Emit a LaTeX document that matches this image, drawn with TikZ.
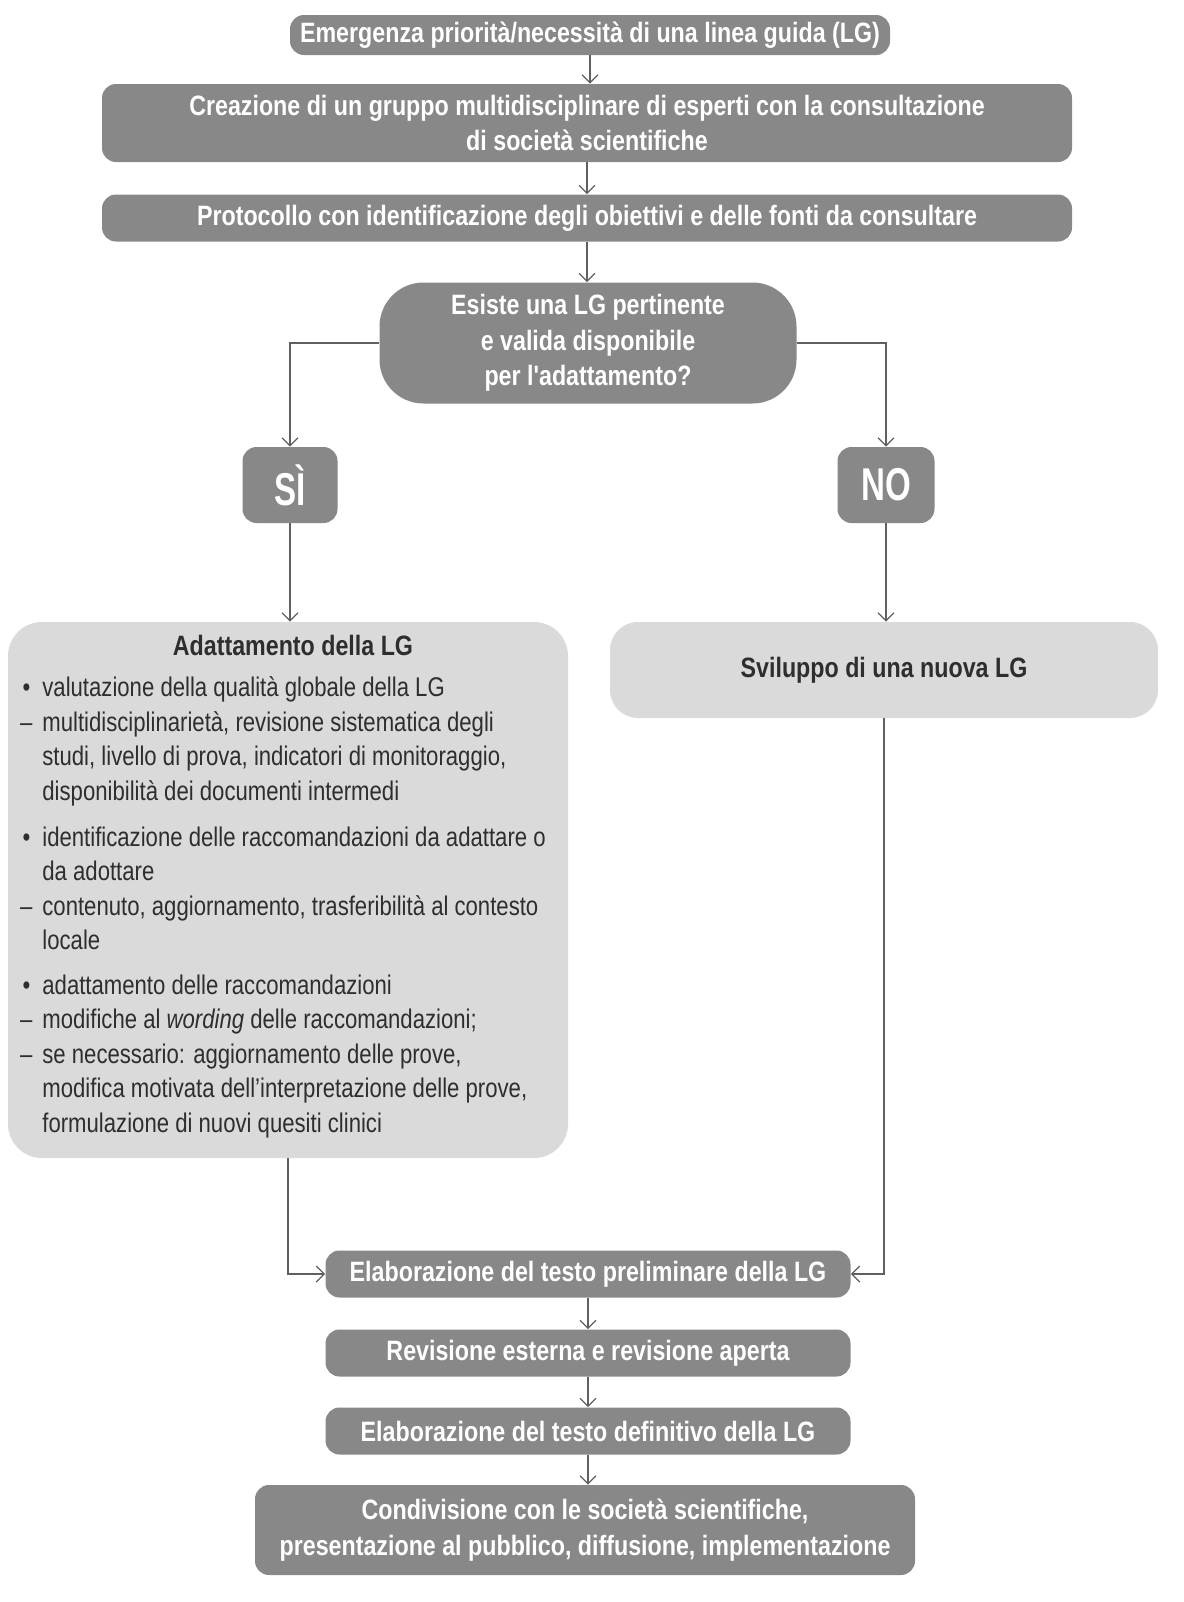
\documentclass[tikz,border=0pt]{standalone}
\usepackage{fontspec}
\setmainfont[FakeStretch=0.82]{Liberation Sans}
\newfontfamily\condbf[FakeStretch=0.83]{Liberation Sans}
\newfontfamily\condbig[FakeStretch=0.72]{Liberation Sans}
\usetikzlibrary{arrows.meta}
\definecolor{boxdark}{HTML}{888888}
\definecolor{boxlight}{HTML}{DADADA}
\definecolor{textdark}{HTML}{2E2E2E}
\definecolor{linegray}{HTML}{606060}
\tikzset{
  darkbox/.style={rectangle, rounded corners=7pt, fill=boxdark, text=white,
    font=\condbf\bfseries\fontsize{14}{17.75}\selectfont, inner sep=0pt, align=center},
  lightbox/.style={rectangle, rounded corners=17pt, fill=boxlight, inner sep=0pt},
  conn/.style={draw=linegray, line width=0.6pt, -{Straight Barb[length=4pt,width=8pt]}},
  line/.style={draw=linegray, line width=0.6pt}
}
\begin{document}
\begin{tikzpicture}[x=0.5pt,y=-0.5pt]
\useasboundingbox[fill=white] (0,0) rectangle (1184,1602);
% top chain
\node[darkbox, minimum width=300pt, minimum height=20pt] (b1) at (590,35)
  {Emergenza priorità/necessità di una linea guida (LG)};
\node[darkbox, minimum width=485pt, minimum height=39pt] (b2) at (587,123)
  {Creazione di un gruppo multidisciplinare di esperti con la consultazione\\di società scientifiche};
\node[darkbox, minimum width=485pt, minimum height=23.5pt] (b3) at (587,218)
  {Protocollo con identificazione degli obiettivi e delle fonti da consultare};
\node[darkbox, rounded corners=22pt, minimum width=208.5pt, minimum height=60.5pt] (dec) at (588,343)
  {Esiste una LG pertinente\\e valida disponibile\\per l'adattamento?};
\node[darkbox, font=\condbig\bfseries\fontsize{23}{26}\selectfont, minimum width=47.5pt, minimum height=38pt] (si) at (290,485) {SÌ};
\node[darkbox, font=\condbig\bfseries\fontsize{23}{26}\selectfont, minimum width=48.5pt, minimum height=38pt] (no) at (886,485) {NO};
% adattamento
\node[lightbox, minimum width=280pt, minimum height=268pt] (adapt) at (288,890) {};
\node[text=textdark, font=\condbf\bfseries\fontsize{14}{17.75}\selectfont, inner sep=0pt] (adtitle) at (293,645) {Adattamento della LG};
\node[text=textdark, anchor=north west, inner sep=0pt, font=\fontsize{13.5}{17.25}\selectfont] (adtext) at (16,672) {%
  \begin{tabular}{@{}l@{\hspace{3pt}}l@{}}
  \makebox[10pt][c]{•} & valutazione della qualità globale della LG\\
  \makebox[10pt][c]{–} & multidisciplinarietà, revisione sistematica degli\\
   & studi, livello di prova, indicatori di monitoraggio,\\
   & disponibilità dei documenti intermedi\\[5.75pt]
  \makebox[10pt][c]{•} & identificazione delle raccomandazioni da adattare o\\
   & da adottare\\
  \makebox[10pt][c]{–} & contenuto, aggiornamento, trasferibilità al contesto\\
   & locale\\[5pt]
  \makebox[10pt][c]{•} & adattamento delle raccomandazioni\\
  \makebox[10pt][c]{–} & modifiche al \textit{wording} delle raccomandazioni;\\
  \makebox[10pt][c]{–} & se necessario: aggiornamento delle prove,\\
   & modifica motivata dell'interpretazione delle prove,\\
   & formulazione di nuovi quesiti clinici
  \end{tabular}};
% sviluppo
\node[lightbox, rounded corners=14pt, minimum width=274pt, minimum height=48pt, text=textdark,
  font=\condbf\bfseries\fontsize{14}{17.75}\selectfont] (svil) at (884,670) {Sviluppo di una nuova LG};
% bottom chain
\node[darkbox, minimum width=262.5pt, minimum height=23.5pt] (e1) at (588,1274)
  {Elaborazione del testo preliminare della LG};
\node[darkbox, minimum width=262.5pt, minimum height=23.5pt] (rev) at (588,1353)
  {Revisione esterna e revisione aperta};
\node[darkbox, minimum width=262.5pt, minimum height=23.5pt] (e2) at (588,1431)
  {Elaborazione del testo definitivo della LG};
\node[darkbox, minimum width=330pt, minimum height=45pt] (cond) at (585,1530)
  {Condivisione con le società scientifiche,\\presentazione al pubblico, diffusione, implementazione};
% connectors
\draw[conn] (b1.south) -- (b1.south |- b2.north);
\draw[conn] (b2.south) -- (b2.south |- b3.north);
\draw[conn] (b3.south) -- (b3.south |- dec.north);
\draw[conn] (dec.west) -| (si.north);
\draw[conn] (dec.east) -| (no.north);
\draw[conn] (si.south) -- (si.south |- adapt.north);
\draw[conn] (no.south) -- (no.south |- svil.north);
\draw[conn] (adapt.south) |- (e1.west);
\draw[conn] (svil.south) |- (e1.east);
\draw[conn] (e1.south) -- (e1.south |- rev.north);
\draw[conn] (rev.south) -- (rev.south |- e2.north);
\draw[conn] (e2.south) -- (e2.south |- cond.north);
\end{tikzpicture}
\end{document}
